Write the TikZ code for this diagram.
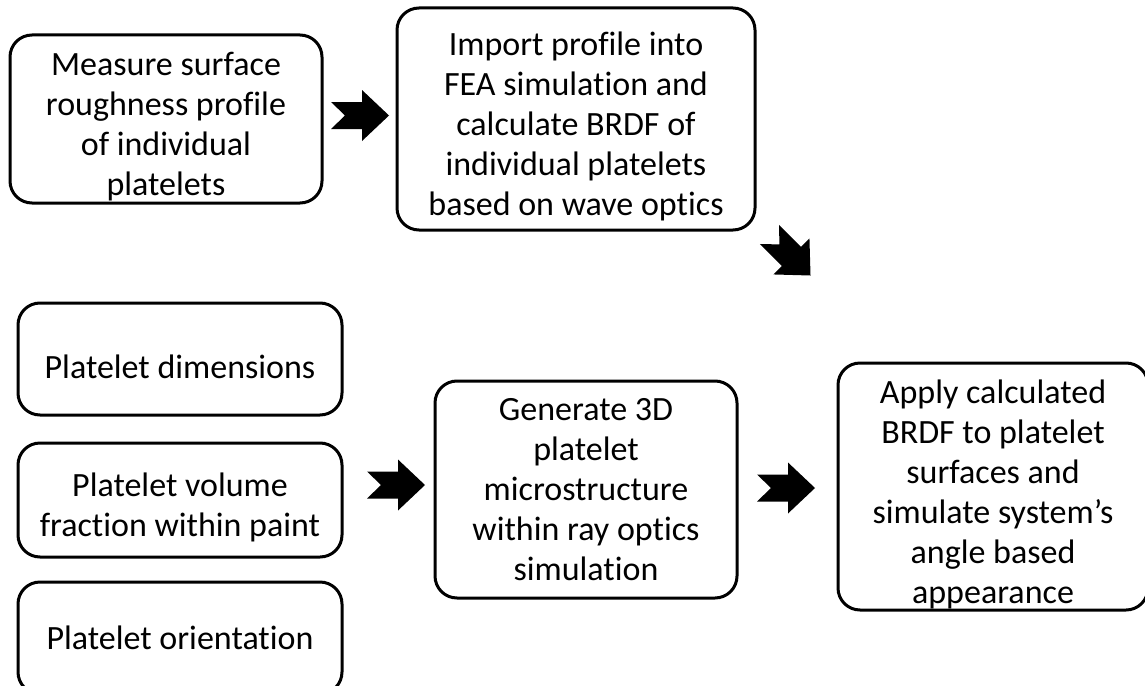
\documentclass[tikz,border=0pt]{standalone}
\usepackage{fontspec}
\setmainfont[Ligatures=NoCommon]{Carlito}
\usepackage{tikz}
\usetikzlibrary{positioning,calc}

% taller first line, so the text sits a bit low in its box
\newcommand{\lift}{\rule{0pt}{39pt}}

\tikzset{
  stepbox/.style={draw,line width=3pt,rounded corners=22pt,align=center,
                  inner sep=0pt,font=\fontsize{34}{40}\selectfont},
  fatarrow/.pic={\fill (-29,13.5) -- (2,13.5) -- (2,25.5) -- (29,0)
                  -- (2,-25.5) -- (2,-13.5) -- (-29,-13.5) -- (-15,0) -- cycle;}
}

\begin{document}
\begin{tikzpicture}[x=1pt,y=-1pt]
\useasboundingbox (0,0) rectangle (1145,685);
% top row
\node[stepbox,minimum width=312,minimum height=168] (measure) at (166,119)
  {\lift Measure surface\\roughness profile\\of individual\\platelets};
\node[stepbox,minimum width=358,minimum height=222] (import) at (576,119)
  {\lift Import profile into\\FEA simulation and\\calculate BRDF of\\individual platelets\\based on wave optics};
% input parameters
\node[stepbox,minimum width=324,minimum height=112] (dims) at (180,359)
  {\lift Platelet dimensions};
\node[stepbox,minimum width=324,minimum height=114] (volume) at (180,500)
  {\lift Platelet volume\\fraction within paint};
\node[stepbox,minimum width=324,minimum height=112] (orient) at (180,638)
  {Platelet orientation};
% simulation steps
\node[stepbox,minimum width=302,minimum height=217] (generate) at (586,489.5)
  {Generate 3D\\platelet\\microstructure\\within ray optics\\simulation};
\node[stepbox,minimum width=310,minimum height=247] (apply) at (993,486.5)
  {\lift Apply calculated\\BRDF to platelet\\surfaces and\\simulate system’s\\angle based\\appearance};
% block arrows between the steps
\pic at (360,115.5) {fatarrow};
\pic[rotate=-45] at (790,255) {fatarrow};
\pic at (396,485) {fatarrow};
\pic at (786,488) {fatarrow};
\end{tikzpicture}
\end{document}
